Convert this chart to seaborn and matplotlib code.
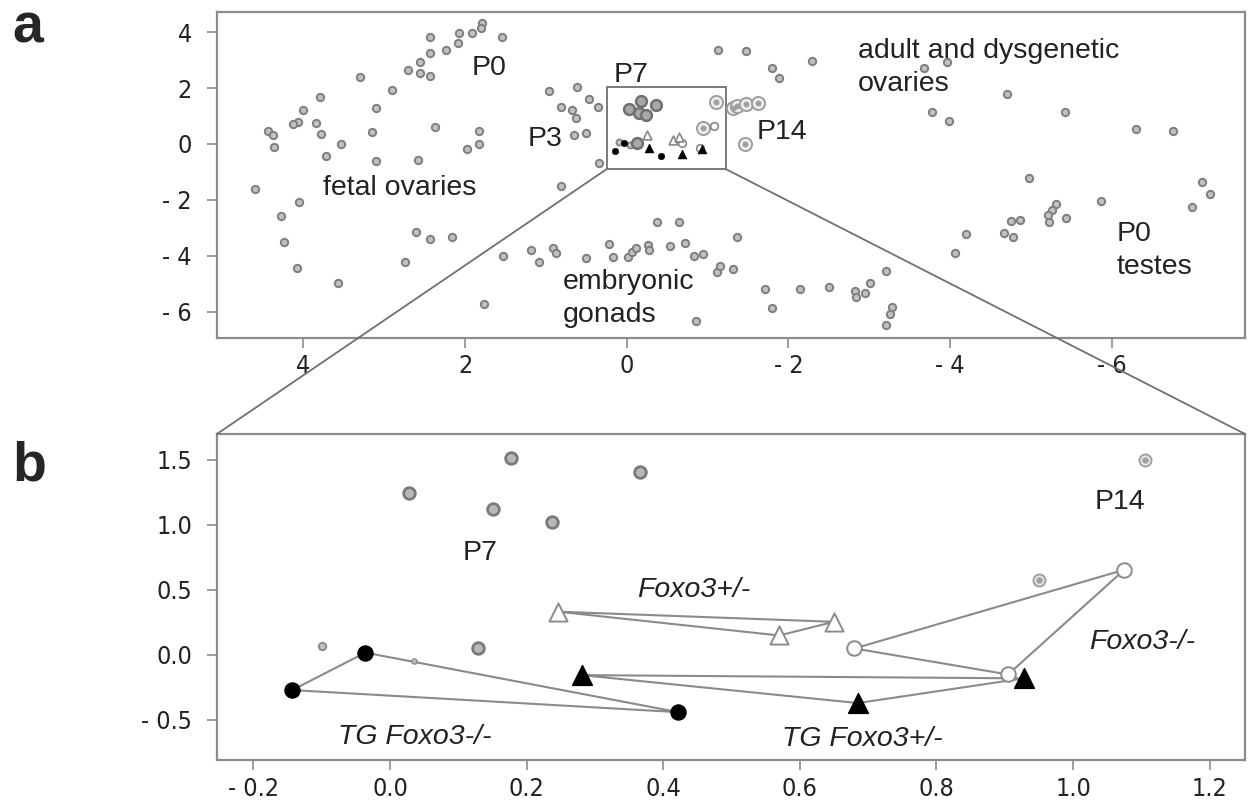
import matplotlib
matplotlib.use("Agg")
import matplotlib.pyplot as plt
from matplotlib.patches import Rectangle, ConnectionPatch
import seaborn as sns

# ---- panel a data (axis shown reversed) ----
fetal_x = [2.44, 2.08, 1.92, 1.79, 1.80, 1.54, 2.09, 2.23, 2.43, 2.56, 2.71, 2.56, 2.43, 3.30, 2.91,
           3.80, 3.10, 4.01, 4.07, 4.13, 3.85, 4.44, 4.38, 3.78, 3.15, 2.37, 1.83, 3.54, 4.37, 1.83,
           1.97, 3.72, 3.10, 2.58, 4.60, 4.05, 4.28, 4.24, 4.08, 3.57, 2.61, 2.44, 2.16, 2.74, 1.77]
fetal_y = [3.84, 3.96, 3.96, 4.32, 4.14, 3.84, 3.60, 3.36, 3.25, 2.94, 2.65, 2.53, 2.43, 2.39, 1.93,
           1.67, 1.28, 1.22, 0.80, 0.72, 0.76, 0.48, 0.32, 0.36, 0.44, 0.62, 0.47, 0.00, -0.10, -0.01,
           -0.18, -0.42, -0.61, -0.57, -1.61, -2.06, -2.58, -3.52, -4.43, -4.98, -3.14, -3.40, -3.34, -4.23, -5.72]
p3_x = [0.96, 0.62, 0.47, 0.36, 0.81, 0.68, 0.63, 0.65, 0.50, 0.34, 0.81]
p3_y = [1.91, 2.05, 1.61, 1.31, 1.31, 1.22, 0.92, 0.32, 0.38, -0.69, -1.50]
emb_x = [1.53, 1.18, 1.08, 0.91, 0.87, 0.50, 0.22, 0.17, -0.02, -0.06, -0.11, -0.26, -0.28, -0.37, -0.65,
         -0.54, -0.72, -0.83, -0.94, -1.12, -1.15, -1.32, -1.36, -0.86, -1.71, -1.80, -2.15, -2.50, -2.83,
         -2.84, -2.95, -3.01, -3.21, -3.28, -3.26, -3.21]
emb_y = [-4.00, -3.79, -4.23, -3.73, -3.89, -4.09, -3.58, -4.03, -4.05, -3.85, -3.73, -3.61, -3.79, -2.78, -2.78,
         -3.64, -3.53, -4.00, -3.94, -4.57, -4.36, -4.48, -3.34, -6.33, -5.20, -5.86, -5.20, -5.11, -5.25,
         -5.48, -5.34, -4.98, -4.54, -5.84, -6.08, -6.48]
adult_x = [-1.13, -1.47, -2.29, -1.80, -1.89, -3.68, -3.96, -4.70, -3.78, -3.99, -5.42, -6.30, -6.76]
adult_y = [3.36, 3.33, 2.97, 2.73, 2.35, 2.71, 2.94, 1.79, 1.13, 0.83, 1.13, 0.54, 0.48]
testes_x = [-4.98, -5.87, -7.12, -7.22, -6.99, -5.31, -5.26, -5.23, -5.21, -5.44, -4.76, -4.87, -4.67, -4.78, -4.20, -4.06]
testes_y = [-1.21, -2.03, -1.37, -1.80, -2.26, -2.15, -2.36, -2.78, -2.54, -2.64, -2.74, -2.72, -3.19, -3.32, -3.22, -3.91]
p14_extra_x = [-1.31, -1.36, -1.48, -1.62, -1.46]
p14_extra_y = [1.29, 1.36, 1.43, 1.46, 0.00]

# ---- panel b data (zoomed region) ----
p7_x = [0.177, 0.366, 0.028, 0.151, 0.237, 0.129]
p7_y = [1.518, 1.405, 1.248, 1.123, 1.025, 0.051]
small_x = [-0.099, 0.035]
small_y = [0.069, -0.046]
p14_x = [1.105, 0.95]
p14_y = [1.50, 0.577]
ko_x = [0.68, 1.075, 0.905]          # Foxo3-/-
ko_y = [0.05, 0.655, -0.15]
het_x = [0.246, 0.57, 0.65]          # Foxo3+/-
het_y = [0.333, 0.15, 0.255]
tg_ko_x = [-0.036, -0.143, 0.422]    # TG Foxo3-/-
tg_ko_y = [0.018, -0.27, -0.44]
tg_het_x = [0.281, 0.685, 0.928]     # TG Foxo3+/-
tg_het_y = [-0.155, -0.37, -0.18]

sns.set_style("white")
plt.rcParams['font.family'] = ['Liberation Sans', 'DejaVu Sans']

fig = plt.figure(figsize=(12.49, 8.05), dpi=100)
ax_a = fig.add_axes([0.1737, 0.5805, 0.8231, 0.405])
ax_b = fig.add_axes([0.1737, 0.0559, 0.8231, 0.405])

grey_edge = '#7f7f7f'
line_col = '#8a8a8a'

def neg(v):
    return [-t for t in v]

# panel a
for gx, gy in [(fetal_x, fetal_y), (p3_x, p3_y), (emb_x, emb_y), (adult_x, adult_y), (testes_x, testes_y)]:
    sns.scatterplot(x=gx, y=gy, ax=ax_a, s=28, color='#c2c2c2', edgecolor=grey_edge, linewidth=1.4, zorder=3)
sns.scatterplot(x=neg(small_x), y=small_y, ax=ax_a, s=20, color='#c6c6c6', edgecolor=grey_edge, linewidth=1.2, zorder=3)
sns.scatterplot(x=neg(p7_x), y=p7_y, ax=ax_a, s=60, color='#a8a8a8', edgecolor='#707070', linewidth=1.8, zorder=3)
p14a_x = neg(p14_x) + p14_extra_x
p14a_y = p14_y + p14_extra_y
sns.scatterplot(x=p14a_x, y=p14a_y, ax=ax_a, s=90, color='#eeeeee', edgecolor='#999999', linewidth=1.3, zorder=3)
sns.scatterplot(x=p14a_x, y=p14a_y, ax=ax_a, s=14, color='#a0a0a0', edgecolor='#a0a0a0', linewidth=0.5, zorder=4)
sns.scatterplot(x=neg(ko_x), y=ko_y, ax=ax_a, s=30, color='white', edgecolor='#888888', linewidth=1.2, zorder=4)
sns.scatterplot(x=neg(het_x), y=het_y, ax=ax_a, s=40, marker='^', color='white', edgecolor='#888888', linewidth=1.2, zorder=4)
sns.scatterplot(x=neg(tg_ko_x), y=tg_ko_y, ax=ax_a, s=22, color='black', edgecolor='black', zorder=5)
sns.scatterplot(x=neg(tg_het_x), y=tg_het_y, ax=ax_a, s=40, marker='^', color='black', edgecolor='black', zorder=5)

ax_a.set_xlim(5.07, -7.65)
ax_a.set_ylim(-6.93, 4.73)
ax_a.set_xticks([4, 2, 0, -2, -4, -6], ['4', '2', '0', '- 2', '- 4', '- 6'])
ax_a.set_yticks([-6, -4, -2, 0, 2, 4], ['- 6', '- 4', '- 2', '0', '2', '4'])

rect = Rectangle((-1.23, -0.905), 1.48, 2.935, fill=False, edgecolor='#707070', linewidth=1.3, zorder=2)
ax_a.add_patch(rect)

txt = dict(fontsize=20.5, color='#222222')
ax_a.text(1.70, 2.72, 'P0', ha='center', va='center', **txt)
ax_a.text(-0.05, 2.45, 'P7', ha='center', va='center', **txt)
ax_a.text(1.01, 0.18, 'P3', ha='center', va='center', **txt)
ax_a.text(-1.92, 0.43, 'P14', ha='center', va='center', **txt)
ax_a.text(2.81, -1.57, 'fetal ovaries', ha='center', va='center', **txt)
ax_a.text(0.79, -5.53, 'embryonic\ngonads', ha='left', va='center', linespacing=1.35, **txt)
ax_a.text(-2.86, 2.74, 'adult and dysgenetic\novaries', ha='left', va='center', linespacing=1.35, **txt)
ax_a.text(-6.06, -3.81, 'P0\ntestes', ha='left', va='center', linespacing=1.35, **txt)

# panel b
for gx, gy in [(tg_ko_x, tg_ko_y), (tg_het_x, tg_het_y), (het_x, het_y), (ko_x, ko_y)]:
    ax_b.plot(gx + gx[:1], gy + gy[:1], color=line_col, linewidth=1.5, zorder=2)

sns.scatterplot(x=p7_x, y=p7_y, ax=ax_b, s=70, color='#b8b8b8', edgecolor='#7a7a7a', linewidth=2.0, zorder=3)
sns.scatterplot(x=small_x[:1], y=small_y[:1], ax=ax_b, s=28, color='#c0c0c0', edgecolor='#8a8a8a', linewidth=1.4, zorder=3)
sns.scatterplot(x=small_x[1:], y=small_y[1:], ax=ax_b, s=14, color='#c0c0c0', edgecolor='#8a8a8a', linewidth=1.0, zorder=3)
sns.scatterplot(x=p14_x, y=p14_y, ax=ax_b, s=75, color='#e6e6e6', edgecolor='#a0a0a0', linewidth=1.4, zorder=3)
sns.scatterplot(x=p14_x, y=p14_y, ax=ax_b, s=16, color='#a0a0a0', edgecolor='#a0a0a0', linewidth=0.5, zorder=4)
sns.scatterplot(x=ko_x, y=ko_y, ax=ax_b, s=110, color='white', edgecolor='#8c8c8c', linewidth=1.4, zorder=4)
sns.scatterplot(x=het_x, y=het_y, ax=ax_b, s=170, marker='^', color='white', edgecolor='#8c8c8c', linewidth=1.4, zorder=4)
sns.scatterplot(x=tg_ko_x, y=tg_ko_y, ax=ax_b, s=120, color='black', edgecolor='black', zorder=5)
sns.scatterplot(x=tg_het_x, y=tg_het_y, ax=ax_b, s=200, marker='^', color='black', edgecolor='black', zorder=5)

ax_b.set_xlim(-0.2533, 1.2518)
ax_b.set_ylim(-0.808, 1.70)
ax_b.set_xticks([-0.2, 0.0, 0.2, 0.4, 0.6, 0.8, 1.0, 1.2],
                ['- 0.2', '0.0', '0.2', '0.4', '0.6', '0.8', '1.0', '1.2'])
ax_b.set_yticks([-0.5, 0.0, 0.5, 1.0, 1.5], ['- 0.5', '0.0', '0.5', '1.0', '1.5'])

ax_b.text(0.132, 0.785, 'P7', ha='center', va='center', **txt)
ax_b.text(1.069, 1.177, 'P14', ha='center', va='center', **txt)
ax_b.text(0.445, 0.50, 'Foxo3+/-', ha='center', va='center', style='italic', **txt)
ax_b.text(1.102, 0.10, 'Foxo3-/-', ha='center', va='center', style='italic', **txt)
ax_b.text(0.037, -0.63, 'TG Foxo3-/-', ha='center', va='center', style='italic', **txt)
ax_b.text(0.691, -0.646, 'TG Foxo3+/-', ha='center', va='center', style='italic', **txt)

for ax in (ax_a, ax_b):
    for sp in ax.spines.values():
        sp.set_visible(True)
        sp.set_color('#8c8c8c')
        sp.set_linewidth(1.6)
    ax.tick_params(axis='both', direction='out', length=7, width=1.2, color='#8c8c8c',
                   labelsize=18, labelcolor='#222222', left=True, bottom=True)
    ax.tick_params(axis='y', pad=11)
    ax.tick_params(axis='x', pad=5)
    for lab in ax.get_xticklabels() + ax.get_yticklabels():
        lab.set_family('DejaVu Sans')
        lab.set_stretch('condensed')
    ax.set_xlabel('')
    ax.set_ylabel('')

# zoom connectors
for xa, xb in [(0.25, 0.0), (-1.23, 1.0)]:
    con = ConnectionPatch(xyA=(xa, -0.905), coordsA=ax_a.transData, xyB=(xb, 1.0), coordsB=ax_b.transAxes,
                          color='#707070', linewidth=1.3)
    fig.add_artist(con)

fig.text(0.010, 0.965, 'a', fontsize=40, fontweight='bold', va='center', ha='left')
fig.text(0.010, 0.420, 'b', fontsize=40, fontweight='bold', va='center', ha='left')

fig.savefig('out.png', dpi=100)
